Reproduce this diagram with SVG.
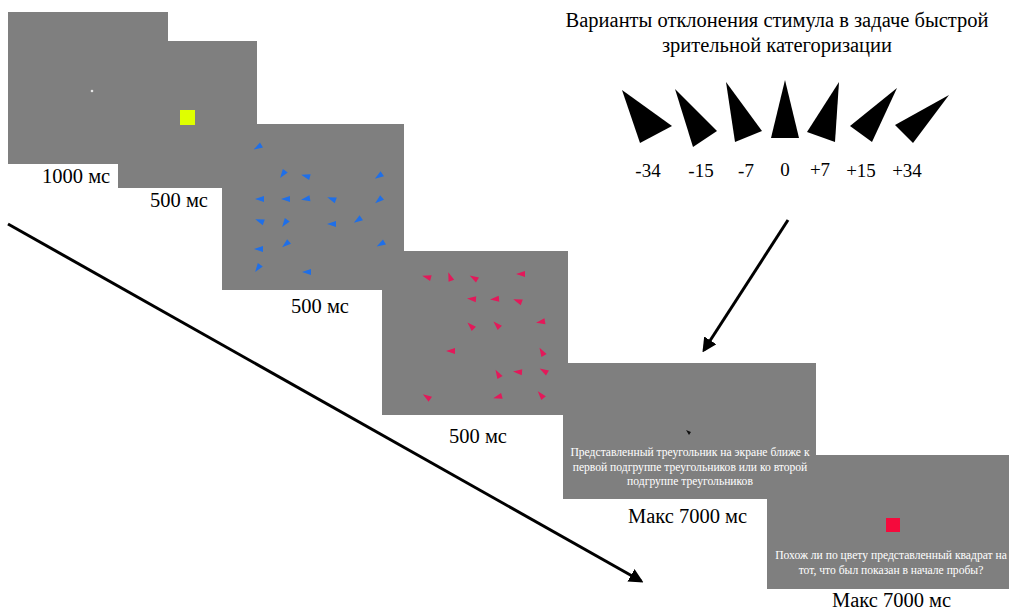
<svg xmlns="http://www.w3.org/2000/svg" xmlns:xlink="http://www.w3.org/1999/xlink" width="1011" height="611" viewBox="0 0 1011 611">
<defs>
<style>
.scr{fill:#7f7f7f}
.lbl{font-family:"Liberation Serif","Times New Roman",serif;font-size:20.5px;fill:#000}
.num{font-family:"Liberation Serif","Times New Roman",serif;font-size:19px;fill:#000;text-anchor:middle}
.ttl{font-family:"Liberation Serif","Times New Roman",serif;font-size:20.5px;fill:#000;text-anchor:middle}
.st{font-family:"Liberation Serif","Times New Roman",serif;font-size:11.6px;fill:#fff;text-anchor:middle}
.bt{fill:#1f6fe8}
.rt{fill:#e3195a}
.big{fill:#000}
.conn{stroke:#000;stroke-width:3;fill:none}
</style>
<path id="w" d="M-5,0 L4,-3 L4,3 Z"/>
<marker id="ah" viewBox="0 0 10 10" refX="8" refY="5" markerWidth="4.8" markerHeight="4.8" orient="auto" markerUnits="strokeWidth">
<path d="M0,0 L10,5 L0,10 Z" fill="#000"/>
</marker>
</defs>
<rect width="1011" height="611" fill="#fff"/>

<g id="screen1">
<rect class="scr" x="8" y="12" width="160" height="152"/>
<circle cx="92" cy="91" r="1.3" fill="#e6e6e6"/>
</g>
<g id="screen2">
<rect class="scr" x="118" y="41" width="139" height="147"/>
<rect x="180" y="110" width="15" height="15" fill="#dfff00"/>
</g>
<g id="screen3">
<rect class="scr" x="222" y="124" width="182" height="166"/>
<g class="bt">
<use xlink:href="#w" transform="translate(258,147) rotate(-30)"/>
<use xlink:href="#w" transform="translate(283,174) rotate(-55)"/>
<use xlink:href="#w" transform="translate(306,176) rotate(15)"/>
<use xlink:href="#w" transform="translate(379,176) rotate(-35)"/>
<use xlink:href="#w" transform="translate(260,199) rotate(0)"/>
<use xlink:href="#w" transform="translate(286,199) rotate(0)"/>
<use xlink:href="#w" transform="translate(306,199) rotate(-10)"/>
<use xlink:href="#w" transform="translate(332,199) rotate(20)"/>
<use xlink:href="#w" transform="translate(379,200) rotate(-40)"/>
<use xlink:href="#w" transform="translate(260,221) rotate(20)"/>
<use xlink:href="#w" transform="translate(285,223) rotate(-55)"/>
<use xlink:href="#w" transform="translate(332,224) rotate(0)"/>
<use xlink:href="#w" transform="translate(358,220) rotate(-35)"/>
<use xlink:href="#w" transform="translate(259,249) rotate(0)"/>
<use xlink:href="#w" transform="translate(286,244) rotate(-40)"/>
<use xlink:href="#w" transform="translate(381,244) rotate(-30)"/>
<use xlink:href="#w" transform="translate(258,268) rotate(-55)"/>
<use xlink:href="#w" transform="translate(307,272) rotate(0)"/>
</g>
</g>
<g id="screen4">
<rect class="scr" x="382" y="251" width="186" height="164"/>
<g class="rt">
<use xlink:href="#w" transform="translate(427,277) rotate(15)"/>
<use xlink:href="#w" transform="translate(450,277) rotate(70)"/>
<use xlink:href="#w" transform="translate(474,278) rotate(30)"/>
<use xlink:href="#w" transform="translate(521,274) rotate(0)"/>
<use xlink:href="#w" transform="translate(472,299) rotate(5)"/>
<use xlink:href="#w" transform="translate(495,299) rotate(-5)"/>
<use xlink:href="#w" transform="translate(518,301) rotate(20)"/>
<use xlink:href="#w" transform="translate(471,326) rotate(45)"/>
<use xlink:href="#w" transform="translate(497,325) rotate(45)"/>
<use xlink:href="#w" transform="translate(541,322) rotate(-10)"/>
<use xlink:href="#w" transform="translate(451,351) rotate(0)"/>
<use xlink:href="#w" transform="translate(542,352) rotate(60)"/>
<use xlink:href="#w" transform="translate(498,374) rotate(60)"/>
<use xlink:href="#w" transform="translate(518,372) rotate(5)"/>
<use xlink:href="#w" transform="translate(544,371) rotate(30)"/>
<use xlink:href="#w" transform="translate(427,397) rotate(35)"/>
<use xlink:href="#w" transform="translate(498,397) rotate(-15)"/>
<use xlink:href="#w" transform="translate(541,395) rotate(50)"/>
</g>
</g>
<g id="screen6">
<rect class="scr" x="767" y="455" width="242" height="134"/>
<rect x="886" y="518" width="14" height="14" fill="#f50a3c"/>
<text class="st" x="891" y="559">Похож ли по цвету представленный квадрат на</text>
<text class="st" x="891" y="574">тот, что был показан в начале пробы?</text>
</g>
<g id="screen5">
<rect class="scr" x="563" y="363" width="253" height="136"/>
<path d="M686,430 L691,432 L689,435 Z" fill="#111"/>
<text class="st" x="690" y="456">Представленный треугольник на экране ближе к</text>
<text class="st" x="690" y="471">первой подгруппе треугольников или ко второй</text>
<text class="st" x="690" y="485">подгруппе треугольников</text>
</g>

<g id="labels">
<text class="lbl" x="42" y="183">1000 мс</text>
<text class="lbl" x="150" y="207">500 мс</text>
<text class="lbl" x="291" y="313">500 мс</text>
<text class="lbl" x="449" y="443">500 мс</text>
<text class="lbl" x="628" y="523">Макс 7000 мс</text>
<text class="lbl" x="832" y="607">Макс 7000 мс</text>
</g>

<g id="title">
<text class="ttl" x="777" y="27">Варианты отклонения стимула в задаче быстрой</text>
<text class="ttl" x="777" y="52">зрительной категоризации</text>
</g>

<g id="stimuli">
<polygon class="big" points="622,90 672,126 640,143"/>
<polygon class="big" points="675,89 717,131 693,147"/>
<polygon class="big" points="726,82 762,131 735,142"/>
<polygon class="big" points="785,80 799,138 771,138"/>
<polygon class="big" points="839,82 835,142 807,132"/>
<polygon class="big" points="897,88 872,142 850,126"/>
<polygon class="big" points="949,95 913,143 895,125"/>
<text class="num" x="648" y="177">-34</text>
<text class="num" x="701" y="177">-15</text>
<text class="num" x="746" y="177">-7</text>
<text class="num" x="785" y="176">0</text>
<text class="num" x="820" y="176">+7</text>
<text class="num" x="861" y="177">+15</text>
<text class="num" x="907" y="177">+34</text>
</g>

<g id="connectors">
<line class="conn" x1="8" y1="224" x2="641" y2="581" marker-end="url(#ah)"/>
<line class="conn" x1="788" y1="220" x2="704" y2="350" marker-end="url(#ah)"/>
</g>
</svg>
